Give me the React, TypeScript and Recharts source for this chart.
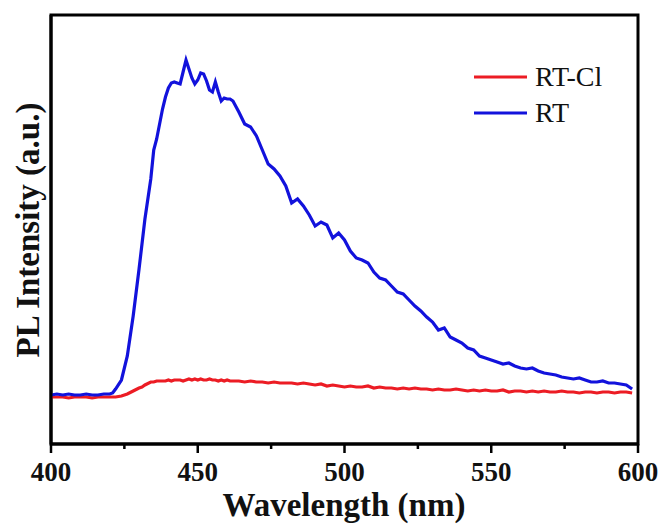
import { LineChart, Line, XAxis, YAxis, Label, ReferenceArea } from 'recharts';

// wavelength grid (nm)
const wavelengths = [
  400, 402, 404, 406, 408, 410, 412, 414, 416, 418, 420, 421, 422, 424, 426, 428, 430, 431, 432, 434,
  435, 436, 438, 439, 440, 441, 442, 443, 444, 445, 446, 447, 448, 449, 450, 451, 452, 453, 454, 455,
  456, 457, 458, 459, 460, 461, 462, 464, 466, 468, 470, 472, 474, 476, 478, 480, 482, 484, 486, 488,
  490, 492, 494, 496, 498, 500, 502, 504, 506, 508, 510, 512, 514, 516, 518, 520, 522, 524, 526, 528,
  530, 532, 534, 536, 538, 540, 542, 544, 546, 548, 550, 552, 554, 556, 558, 560, 562, 564, 566, 568,
  570, 572, 574, 576, 578, 580, 582, 584, 586, 588, 590, 592, 594, 596, 598,
];

// RT (blue)
const rtValues = [
  49, 50, 49, 50, 49, 49, 50, 49, 49, 50, 50, 51, 55, 64, 88, 128, 175, 200, 225, 265,
  294, 305, 335, 347, 356, 361, 362, 361, 360, 372, 384, 375, 366, 360, 364, 371, 370, 363, 354, 352,
  362, 352, 343, 346, 345, 345, 343, 332, 320, 317, 308, 294, 280, 275, 268, 258, 241, 245, 238, 229,
  218, 222, 219, 206, 211, 204, 193, 186, 184, 181, 172, 166, 164, 158, 152, 150, 144, 138, 133, 127,
  122, 114, 116, 107, 104, 101, 96, 94, 88, 86, 84, 82, 80, 81, 78, 76, 75, 76, 73, 71,
  70, 69, 67, 66, 65, 66, 64, 62, 62, 63, 61, 61, 60, 59, 55,
];

// RT-Cl (red)
const rtClValues = [
  47, 47, 47, 46, 47, 47, 47, 46, 47, 47, 47, 47, 47, 48, 50, 53, 56, 57, 59, 62,
  62, 63, 63, 63, 64, 63, 64, 64, 64, 63, 64, 65, 64, 65, 64, 65, 64, 64, 65, 64,
  64, 63, 64, 63, 64, 63, 63, 63, 62, 63, 62, 62, 61, 62, 61, 61, 61, 60, 61, 60,
  59, 60, 58, 59, 58, 57, 58, 57, 57, 58, 56, 57, 56, 56, 55, 56, 55, 56, 55, 55,
  54, 55, 54, 54, 55, 54, 53, 54, 53, 54, 53, 53, 54, 52, 53, 53, 52, 53, 52, 53,
  52, 52, 53, 52, 52, 51, 52, 52, 51, 52, 52, 51, 52, 52, 51,
];

const xTicks = [400, 425, 450, 475, 500, 525, 550, 575, 600];
const majorTicks = [400, 450, 500, 550, 600];

const series = [
  { key: 'rtcl', name: 'RT-Cl', color: '#ec1c24' },
  { key: 'rt', name: 'RT', color: '#1212dc' },
];

const data = wavelengths.map((w, i) => ({ w, rt: rtValues[i], rtcl: rtClValues[i] }));

const FONT = '"Liberation Serif", "Times New Roman", serif';

function XTick(props: any) {
  const { x, y, payload } = props;
  const major = majorTicks.includes(payload.value);
  return (
    <g>
      <line x1={x} x2={x} y1={y} y2={y + (major ? 9 : 5)} stroke="#000" strokeWidth={2.5} />
      {major && (
        <text x={x} y={y + 37} textAnchor="middle" fontFamily={FONT} fontWeight="bold" fontSize={27} fill="#111">
          {payload.value}
        </text>
      )}
    </g>
  );
}

function LegendBox() {
  return (
    <div style={{ position: 'absolute', left: 474, top: 59, fontFamily: FONT, fontSize: 28, color: '#111', lineHeight: 1 }}>
      {series.map((s) => (
        <div key={s.key} style={{ display: 'flex', alignItems: 'center', height: 36 }}>
          <svg width={61} height={10}>
            <line x1={0} x2={53} y1={5} y2={5} stroke={s.color} strokeWidth={3} />
          </svg>
          <span>{s.name}</span>
        </div>
      ))}
    </div>
  );
}

export default function App() {
  return (
    <div style={{ position: 'absolute', left: 0, top: 0, width: 663, height: 527, background: '#fff' }}>
      <LineChart width={663} height={527} data={data} margin={{ top: 15, right: 25, left: 0, bottom: 0 }}>
        <XAxis
          dataKey="w"
          type="number"
          domain={[400, 600]}
          ticks={xTicks}
          interval={0}
          tickSize={0}
          tickMargin={0}
          tickLine={false}
          tick={<XTick />}
          height={83}
          axisLine={{ stroke: '#000', strokeWidth: 3 }}
        >
          <Label
            content={() => (
              <text x={344} y={516} textAnchor="middle" fontFamily={FONT} fontWeight="bold" fontSize={33} fill="#111">
                Wavelength (nm)
              </text>
            )}
          />
        </XAxis>
        <YAxis
          type="number"
          domain={[0, 429]}
          tick={false}
          tickLine={false}
          width={51}
          axisLine={{ stroke: '#000', strokeWidth: 3 }}
        >
          <Label
            content={() => (
              <text x={28} y={230} transform="rotate(-90 28 230)" textAnchor="middle" dominantBaseline="central" fontFamily={FONT} fontWeight="bold" fontSize={33} fill="#111">
                PL Intensity (a.u.)
              </text>
            )}
          />
        </YAxis>
        <ReferenceArea x1={400} x2={600} y1={0} y2={429} fill="none" stroke="#000" strokeWidth={3} ifOverflow="visible" />
        {series.map((s) => (
          <Line
            key={s.key}
            dataKey={s.key}
            name={s.name}
            stroke={s.color}
            strokeWidth={3.2}
            dot={false}
            isAnimationActive={false}
          />
        ))}
      </LineChart>
      <LegendBox />
    </div>
  );
}
